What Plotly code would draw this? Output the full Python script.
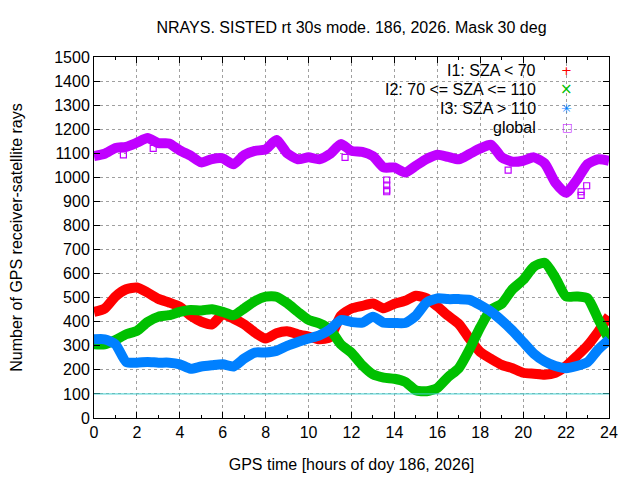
import plotly.graph_objects as go

# hours of day, half-hour steps
hours = [i * 0.5 for i in range(49)]

i1_sza_lt70 = [441, 455, 505, 535, 542, 521, 495, 480, 462, 425, 400, 389, 431,
               413, 389, 355, 330, 352, 360, 348, 338, 327, 335, 425, 455, 466,
               476, 456, 475, 487, 508, 497, 464, 425, 391, 329, 274, 246, 221,
               207, 188, 184, 180, 188, 216, 257, 301, 359, 423]

i2_sza_mid = [306, 306, 324, 348, 362, 399, 421, 427, 441, 449, 447, 452, 441,
              427, 455, 486, 504, 504, 477, 441, 408, 393, 368, 306, 271, 219,
              181, 168, 163, 150, 115, 111, 125, 170, 207, 285, 377, 450, 475,
              535, 574, 629, 645, 583, 505, 505, 497, 411, 326]

i3_sza_gt110 = [327, 327, 306, 233, 230, 233, 230, 230, 223, 205, 214, 219, 223,
                214, 247, 272, 272, 279, 300, 316, 330, 343, 368, 407, 399, 396,
                421, 396, 395, 395, 425, 480, 497, 494, 494, 491, 469, 442, 405,
                363, 315, 267, 235, 216, 207, 216, 232, 285, 325]

global_rays = [1088, 1098, 1122, 1127, 1144, 1163, 1142, 1141, 1112, 1090, 1062,
               1076, 1079, 1054, 1093, 1110, 1116, 1155, 1100, 1075, 1083, 1075,
               1097, 1138, 1110, 1106, 1088, 1041, 1041, 1020, 1048, 1076, 1094,
               1085, 1075, 1097, 1120, 1135, 1083, 1065, 1069, 1083, 1058, 978,
               936, 989, 1055, 1075, 1069]

# isolated global epochs away from the main band
global_out_h = [1.37, 2.76, 11.7, 13.64, 13.64, 13.64, 13.64, 19.3, 22.7, 22.7, 22.96]
global_out_v = [1093, 1120, 1083, 989, 968, 947, 940, 1030, 940, 925, 965]

series = [
    ("I1: SZA < 70", i1_sza_lt70, "#ff0000", "+"),
    ("I2: 70 <= SZA <= 110", i2_sza_mid, "#00c000", "×"),
    ("I3: SZA > 110", i3_sza_gt110, "#0080ff", "✳"),
    ("global", global_rays, "#c000ff", "□"),
]

fig = go.Figure()

for name, vals, col, sym in series:
    fig.add_trace(go.Scatter(x=hours, y=vals, mode="lines", name=name, showlegend=False,
                             line=dict(color=col, width=10, shape="spline", smoothing=0.6),
                             hoverinfo="skip"))

fig.add_trace(go.Scatter(x=global_out_h, y=global_out_v, mode="markers", showlegend=False,
                         marker=dict(symbol="square-open", size=6, color="#c000ff",
                                     line=dict(width=1.2, color="#c000ff"))))

fig.add_hline(y=100, line=dict(color="#40d0d0", width=1))

# gnuplot-style key: opaque box, right-aligned labels, sample symbol at the right
fig.add_shape(type="rect", xref="paper", yref="paper", x0=0.47, x1=0.963, y0=0.775, y1=1.0,
              fillcolor="white", line=dict(width=0), layer="between")
key_y = [0.962, 0.910, 0.858, 0.806]
for (name, vals, col, sym), ky in zip(series, key_y):
    fig.add_annotation(xref="paper", yref="paper", x=0.862, y=ky, text=name,
                       showarrow=False, xanchor="right", yanchor="middle",
                       font=dict(size=16, color="black"))
    fig.add_annotation(xref="paper", yref="paper", x=0.918, y=ky, text=sym,
                       showarrow=False, xanchor="center", yanchor="middle",
                       font=dict(size={"×": 15, "□": 11}.get(sym, 13), color=col,
                                 family="DejaVu Sans"))

axis_common = dict(showline=True, linecolor="black", linewidth=1, mirror="allticks",
                   ticks="inside", ticklen=6, tickcolor="black", automargin=False,
                   showgrid=True, gridcolor="#a0a0a0", griddash="dot", gridwidth=1,
                   zeroline=False, tickfont=dict(size=16, color="black"))

# page body has an 8px margin, so the margins are offset by 8px
fig.update_layout(
    width=640, height=480,
    margin=dict(l=86, r=39, t=49, b=70, autoexpand=False),
    paper_bgcolor="white", plot_bgcolor="white",
    showlegend=False,
    font=dict(family="Liberation Sans, Arial, sans-serif", size=16, color="black"),
    title=dict(text="NRAYS. SISTED rt 30s mode. 186, 2026. Mask 30 deg",
               xref="paper", x=0.5, xanchor="center", y=0.96, yanchor="middle",
               font=dict(size=16)),
    xaxis=dict(range=[0, 24], dtick=2,
               minor=dict(dtick=1, ticks="inside", ticklen=3, tickcolor="black", showgrid=False),
               title=dict(text="GPS time [hours of doy 186, 2026]", standoff=18,
                          font=dict(size=16)),
               **axis_common),
    yaxis=dict(range=[0, 1500], dtick=100,
               title=dict(text="Number of GPS receiver-satellite rays", standoff=53,
                          font=dict(size=16)),
               **axis_common),
)

fig.write_html("out.html")
